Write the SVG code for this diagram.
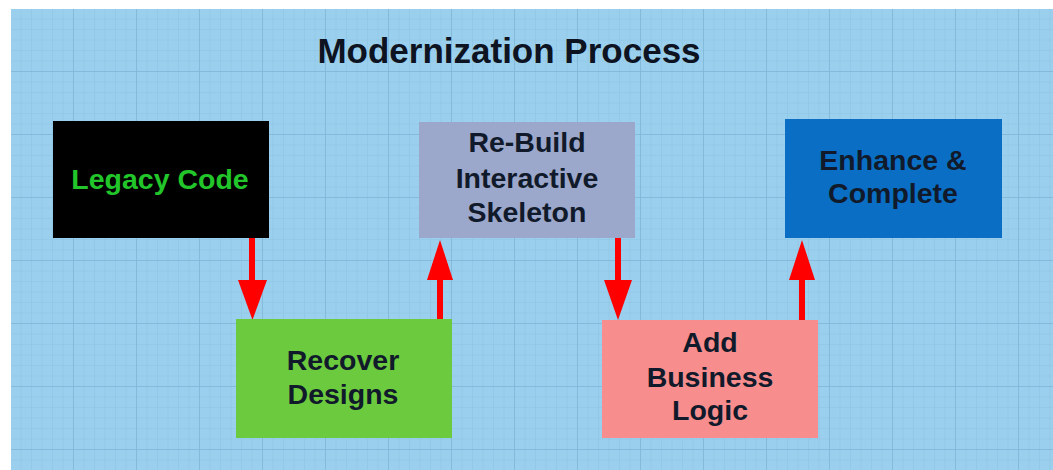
<svg xmlns="http://www.w3.org/2000/svg" width="1053" height="470" viewBox="0 0 1053 470">
<style>
.lbl{font-family:"Liberation Sans",Arial,sans-serif;font-weight:bold;font-size:28.5px;text-anchor:middle;fill:#111a2a}
.title{font-family:"Liberation Sans",Arial,sans-serif;font-weight:bold;font-size:35px;text-anchor:middle;fill:#0d1320}
.conn{stroke:#ff0000;stroke-width:6;fill:none}
.head{fill:#ff0000}
</style>
<defs>
<pattern id="minor" x="11" y="9" width="10.5" height="10.5" patternUnits="userSpaceOnUse">
<path d="M10.5 0V10.5M0 10.5H10.5" stroke="#8cc3e3" stroke-width="1" fill="none"/>
</pattern>
<pattern id="major" x="11" y="9" width="63" height="63" patternUnits="userSpaceOnUse">
<path d="M63 0V63M0 63H63" stroke="#7fb5d6" stroke-width="1.5" fill="none"/>
</pattern>
</defs>
<rect width="1053" height="470" fill="#ffffff"/>
<rect x="11" y="9" width="1042" height="461" fill="#9bcfee"/>
<rect x="11" y="9" width="1042" height="461" fill="url(#minor)"/>
<rect x="11" y="9" width="1042" height="461" fill="url(#major)"/>
<text class="title" x="509" y="63">Modernization Process</text>
<g id="connectors">
<line class="conn" x1="252" y1="238" x2="252" y2="281"/>
<path class="head" d="M238 280H267L252.5 320Z"/>
<line class="conn" x1="440" y1="322" x2="440" y2="279"/>
<path class="head" d="M427 280H453L440 240Z"/>
<line class="conn" x1="618" y1="238" x2="618" y2="281"/>
<path class="head" d="M604 280H632L618 320Z"/>
<line class="conn" x1="802" y1="322" x2="802" y2="279"/>
<path class="head" d="M789 280H815L802 240Z"/>
</g>
<g id="legacy">
<rect x="53" y="121" width="216" height="117" fill="#000000"/>
<text class="lbl" x="160" y="189" style="fill:#22c62a">Legacy Code</text>
</g>
<g id="rebuild">
<rect x="419" y="122" width="216" height="116" fill="#9ba7cb"/>
<text class="lbl" x="527" y="152">Re-Build</text>
<text class="lbl" x="527" y="188">Interactive</text>
<text class="lbl" x="527" y="222">Skeleton</text>
</g>
<g id="enhance">
<rect x="785" y="119" width="217" height="119" fill="#0a6fc4"/>
<text class="lbl" x="893" y="170">Enhance &amp;</text>
<text class="lbl" x="893" y="203">Complete</text>
</g>
<g id="recover">
<rect x="236" y="319" width="216" height="119" fill="#6cca3e"/>
<text class="lbl" x="343" y="370">Recover</text>
<text class="lbl" x="343" y="404">Designs</text>
</g>
<g id="business">
<rect x="602" y="320" width="216" height="118" fill="#f78e8d"/>
<text class="lbl" x="710" y="352">Add</text>
<text class="lbl" x="710" y="387">Business</text>
<text class="lbl" x="710" y="420">Logic</text>
</g>
</svg>
